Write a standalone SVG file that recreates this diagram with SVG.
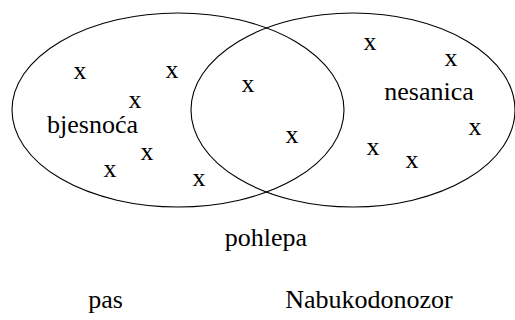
<svg xmlns="http://www.w3.org/2000/svg" width="515" height="320" viewBox="0 0 515 320">
  <style>
    .set { fill: none; stroke: #000; stroke-width: 1.1; }
    .t { font-family: 'Liberation Serif', 'DejaVu Serif', 'Times New Roman', Times, serif; font-size: 26px; fill: #000; text-anchor: middle; }
  </style>
  <rect width="515" height="320" fill="#fff"/>
  <g id="sets">
    <ellipse id="set-left" class="set" cx="178" cy="110" rx="166" ry="97"/>
    <ellipse id="set-right" class="set" cx="353" cy="110" rx="162" ry="97"/>
  </g>
  <g id="labels">
    <text class="t" x="92.5" y="133">bjesnoća</text>
    <text class="t" x="429" y="100">nesanica</text>
    <text class="t" x="266" y="246">pohlepa</text>
    <text class="t" x="105.5" y="308">pas</text>
    <text class="t" x="369" y="308">Nabukodonozor</text>
  </g>
  <g id="elements">
    <text class="t" x="80" y="79">x</text>
    <text class="t" x="172" y="78">x</text>
    <text class="t" x="135" y="108">x</text>
    <text class="t" x="147" y="160">x</text>
    <text class="t" x="110" y="177">x</text>
    <text class="t" x="199" y="186">x</text>
    <text class="t" x="248" y="92">x</text>
    <text class="t" x="292" y="143">x</text>
    <text class="t" x="370" y="50">x</text>
    <text class="t" x="451" y="66">x</text>
    <text class="t" x="475" y="135">x</text>
    <text class="t" x="373" y="155">x</text>
    <text class="t" x="412" y="168">x</text>
  </g>
</svg>
